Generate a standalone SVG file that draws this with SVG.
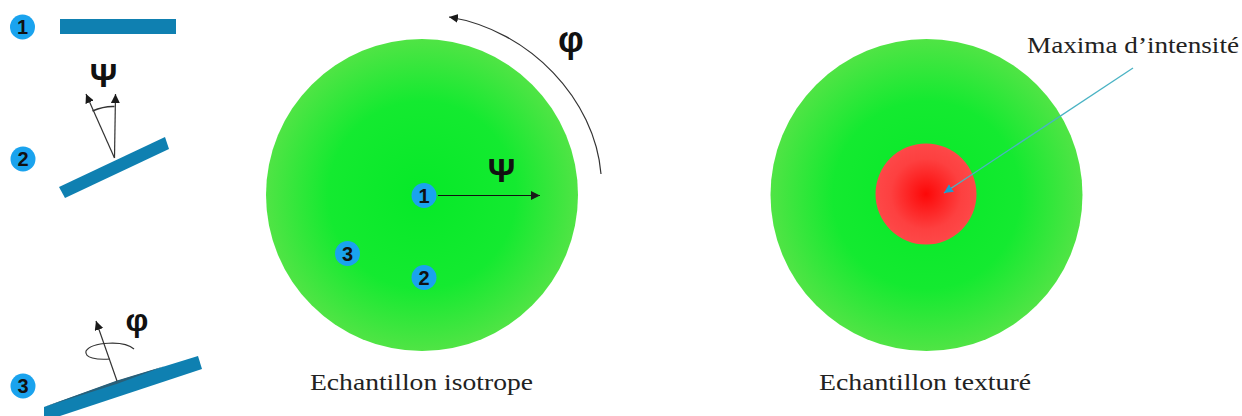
<svg xmlns="http://www.w3.org/2000/svg" width="1242" height="416" viewBox="0 0 1242 416">
<style>
.bar{fill:#0f80b1}
.badge{fill:#1aa3ee}
.num{font-family:"Liberation Sans",Arial,sans-serif;font-weight:700;font-size:20px;fill:#111;text-anchor:middle}
.sym{font-family:"Liberation Sans",Arial,sans-serif;font-weight:700;fill:#111;text-anchor:middle}
.cap{font-family:"Liberation Serif","Times New Roman",serif;font-size:23px;fill:#222}
.ln{fill:none;stroke:#333;stroke-width:1.200}
</style>
<defs>
<radialGradient id="g"><stop offset="0" stop-color="#06ea28"/><stop offset="0.6" stop-color="#14ea30"/><stop offset="1" stop-color="#50e445"/></radialGradient>
<radialGradient id="r"><stop offset="0" stop-color="#fd0808"/><stop offset="0.7" stop-color="#fd4040"/><stop offset="1" stop-color="#fd4848"/></radialGradient>
<marker id="a" markerUnits="userSpaceOnUse" markerWidth="12" markerHeight="10" refX="9" refY="4.500" orient="auto"><path d="M0 0L9 4.500L0 9Z" fill="#1a1a1a"/></marker>
<marker id="b" markerUnits="userSpaceOnUse" markerWidth="12" markerHeight="10" refX="9" refY="4.500" orient="auto"><path d="M0 0L9 4.500L0 9Z" fill="#1a9fd0"/></marker>
</defs>
<rect width="1242" height="416" fill="#fff"/>
<g id="orientation-1">
<circle class="badge" cx="22.500" cy="27" r="12.500"/><text class="num" x="22.500" y="34">1</text>
<rect class="bar" x="60" y="19" width="116" height="15"/>
</g>
<g id="orientation-2">
<circle class="badge" cx="23" cy="159" r="12.500"/><text class="num" x="23" y="166">2</text>
<polygon class="bar" points="59,187 165,137 169,149 65,198"/>
<text class="sym" x="103.500" y="87" font-size="34">Ψ</text>
<path class="ln" style="stroke-width:1.600" d="M92.500 111Q104 106 114.500 106.500"/>
</g>
<g id="orientation-3">
<circle class="badge" cx="23" cy="386" r="12.500"/><text class="num" x="23" y="393">3</text>
<polygon class="bar" points="44,407 117,381 198,356 202,369 60,416 44,416"/>
<polygon fill="#2a5f78" points="44,407 117,380.500 165,366 118,383.500"/>
<text class="sym" x="137" y="331" font-size="32">φ</text>
<path class="ln" d="M134 349C124 340 92 342 86 351C84 358 97 360 110 359"/>
</g>
<g id="sample-isotrope">
<circle cx="422" cy="195" r="156" fill="url(#g)"/>
<circle class="badge" cx="424" cy="195.500" r="12.500"/><text class="num" x="424" y="202.500">1</text>
<circle class="badge" cx="424" cy="277.500" r="12.500"/><text class="num" x="424" y="284.500">2</text>
<circle class="badge" cx="347.500" cy="253.500" r="12.500"/><text class="num" x="347.500" y="260.500">3</text>
<text class="sym" x="501.500" y="182" font-size="34">Ψ</text>
<text class="sym" x="571" y="52" font-size="36">φ</text>
<text class="cap" x="310" y="390" textLength="223" lengthAdjust="spacingAndGlyphs">Echantillon isotrope</text>
</g>
<g id="sample-texture">
<circle cx="926.500" cy="195" r="156" fill="url(#g)"/>
<circle cx="926" cy="194" r="50.500" fill="url(#r)"/>
<text class="cap" x="819" y="390" textLength="212" lengthAdjust="spacingAndGlyphs">Echantillon texturé</text>
<text class="cap" x="1027" y="53" textLength="212" lengthAdjust="spacingAndGlyphs">Maxima d’intensité</text>
</g>
<g id="connectors">
<line class="ln" x1="114.500" y1="158" x2="86" y2="94" marker-end="url(#a)"/>
<line class="ln" x1="114.500" y1="158" x2="115.500" y2="94" marker-end="url(#a)"/>
<line class="ln" x1="117" y1="381" x2="96" y2="321" marker-end="url(#a)"/>
<line x1="438" y1="195.500" x2="540" y2="195.500" stroke="#111" stroke-width="1.200" marker-end="url(#a)"/>
<path class="ln" d="M601 174C595 100 530 30 449 17" marker-end="url(#a)"/>
<line x1="1133" y1="68" x2="944" y2="193" stroke="#4ab3c4" stroke-width="1.300" marker-end="url(#b)"/>
</g>
</svg>
